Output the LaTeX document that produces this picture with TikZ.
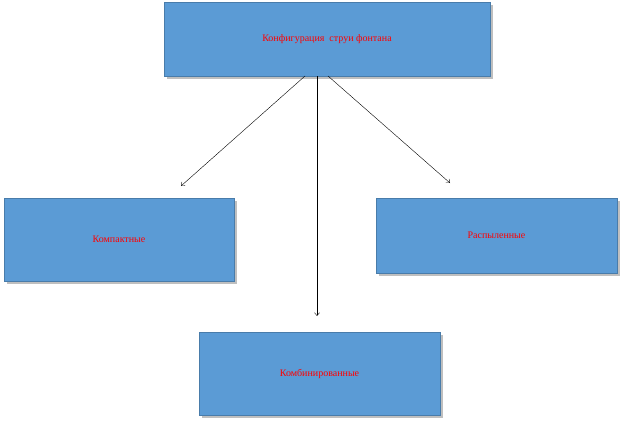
\documentclass[tikz,border=0pt]{standalone}
\usepackage{fontspec}
\setmainfont{Liberation Serif}
\usetikzlibrary{arrows.meta, shadows}
\definecolor{boxblue}{HTML}{5B9BD5}
\tikzset{
    box/.style={rectangle, draw=boxblue!80!black, fill=boxblue, align=center,
        font=\fontsize{10}{12}\selectfont, text=red,
        drop shadow={shadow xshift=2.5pt, shadow yshift=-2.5pt, fill=black!25, opacity=1}},
    arrow/.style={-{Straight Barb[length=3pt, width=5pt]}, thin}
}
\begin{document}
\begin{tikzpicture}[x=1pt, y=-1pt]
    \useasboundingbox (0,0) rectangle (624,423);
    % Boxes
    \node[box, minimum width=326pt, minimum height=74pt] (top) at (327,39) {Конфигурация \ струи фонтана};
    \node[box, minimum width=230pt, minimum height=83pt] (compact) at (119,239.5) {Компактные};
    \node[box, minimum width=241pt, minimum height=75pt] (spray) at (496.5,235.5) {Распыленные};
    \node[box, minimum width=241pt, minimum height=83pt] (comb) at (319.5,373.5) {Комбинированные};

    % Arrow ends
    \coordinate (a1) at (181,186);
    \coordinate (a2) at (317,316);
    \coordinate (a3) at (450,183);

    \draw[arrow] (305,76) -- (a1);
    \draw[arrow] (317,76) -- (a2);
    \draw[arrow] (328,76) -- (a3);
\end{tikzpicture}
\end{document}
